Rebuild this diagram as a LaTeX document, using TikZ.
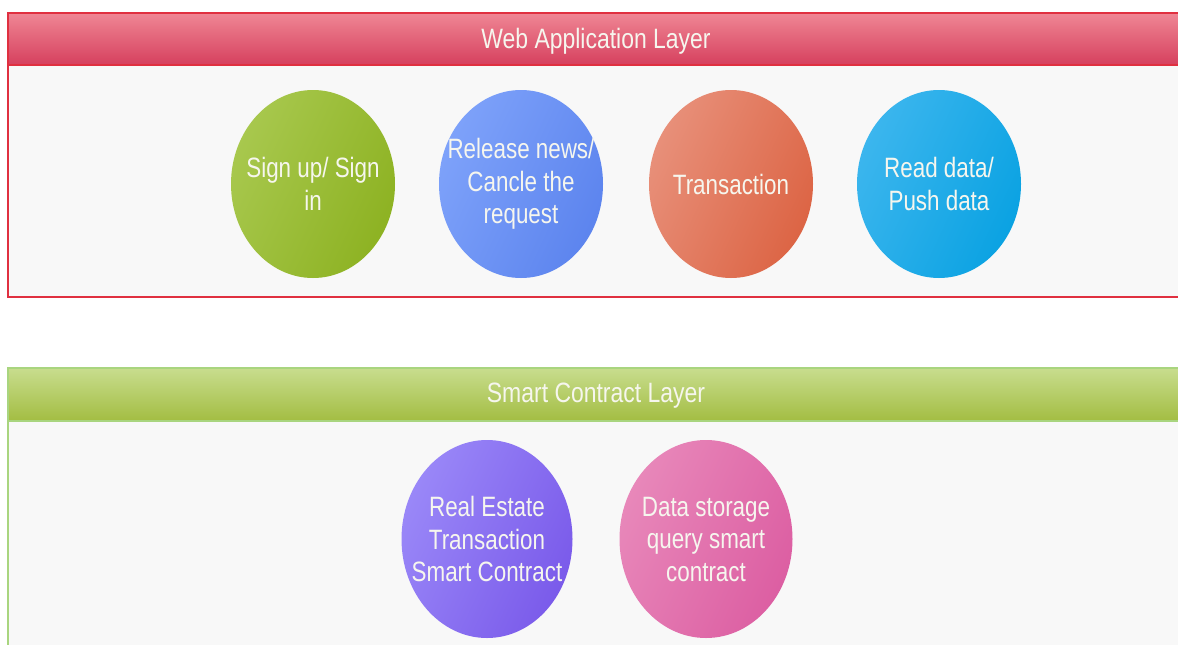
\documentclass[tikz,border=0pt]{standalone}
\usepackage{fontspec}
\setmainfont{Liberation Sans}
\newfontfamily\narrowfont[FakeStretch=0.8]{Liberation Sans}
\newfontfamily\headfont[FakeStretch=0.82]{Liberation Sans}
\usetikzlibrary{shapes.geometric}
\definecolor{redborder}{HTML}{E03040}
\definecolor{redtop}{HTML}{EF8694}
\definecolor{redmid}{HTML}{E4506A}
\definecolor{redbot}{HTML}{D6405E}
\definecolor{greenborder}{HTML}{A9D57F}
\definecolor{greentop}{HTML}{C8DD8E}
\definecolor{greenmid}{HTML}{B6CF46}
\definecolor{greenbot}{HTML}{A3BD42}
\definecolor{bodyfill}{HTML}{F8F8F8}
\definecolor{txt}{HTML}{F6F6EE}
\definecolor{gA}{HTML}{A8C84E}\definecolor{gB}{HTML}{8DB222}
\definecolor{bA}{HTML}{7EA2FA}\definecolor{bB}{HTML}{5C84EE}
\definecolor{oA}{HTML}{E8907A}\definecolor{oB}{HTML}{DC6444}
\definecolor{cA}{HTML}{3CB6EE}\definecolor{cB}{HTML}{0AA2E2}
\definecolor{pA}{HTML}{9A88F8}\definecolor{pB}{HTML}{7A5AEA}
\definecolor{kA}{HTML}{E888BA}\definecolor{kB}{HTML}{DC5EA2}
\begin{document}
\begin{tikzpicture}[x=1pt,y=-1pt,
  bodybox/.style={fill=bodyfill,line width=1.4pt},
  headtext/.style={text=txt,font=\headfont\fontsize{28}{32}\selectfont,inner sep=0,anchor=base},
  bubbletext/.style={text=txt,align=center,inner sep=0,font=\narrowfont\fontsize{28}{32.5}\selectfont},
  bubble/.style n args={3}{ellipse,inner sep=0,minimum width=164pt,minimum height=188pt,
     top color=#1,bottom color=#2,shading angle=65,
     label={[bubbletext]center:#3}}
]
\clip (0,0) rectangle (1178,645);
\fill[white] (0,0) rectangle (1178,645);
% top panel
\draw[bodybox,draw=redborder] (8,13) rectangle (1195,297);
\shade[top color=redtop,middle color=redmid,bottom color=redbot] (8,13) rectangle (1195,65);
\draw[redborder,line width=1.4pt] (8,65) -- (8,13) -- (1195,13);
\draw[redborder,line width=2pt] (8,65) -- (1195,65);
\node[headtext] (webhead) at (596,48) {Web Application Layer};
% bottom panel
\draw[bodybox,draw=greenborder] (8,368) rectangle (1195,680);
\shade[top color=greentop,middle color=greenmid,bottom color=greenbot] (8,368) rectangle (1195,421);
\draw[greenborder,line width=1.4pt] (8,421) -- (8,368) -- (1195,368);
\draw[greenborder,line width=1.6pt] (8,421) -- (1195,421);
\node[headtext] (schead) at (596,402) {Smart Contract Layer};
% web bubbles
\node[bubble={gA}{gB}{Sign up/ Sign\\in}] (sign) at (313,184) {};
\node[bubble={bA}{bB}{Release news/\\Cancle the\\request}] (news) at (521,184) {};
\node[bubble={oA}{oB}{Transaction}] (trans) at (731,184) {};
\node[bubble={cA}{cB}{Read data/\\Push data}] (rw) at (939,184) {};
% contract bubbles
\node[bubble={pA}{pB}{Real Estate\\Transaction\\Smart Contract},minimum width=171pt,minimum height=198pt] (rest) at (487,539) {};
\node[bubble={kA}{kB}{Data storage\\query smart\\contract},minimum width=173pt,minimum height=198pt] (store) at (706,539) {};
\end{tikzpicture}
\end{document}
